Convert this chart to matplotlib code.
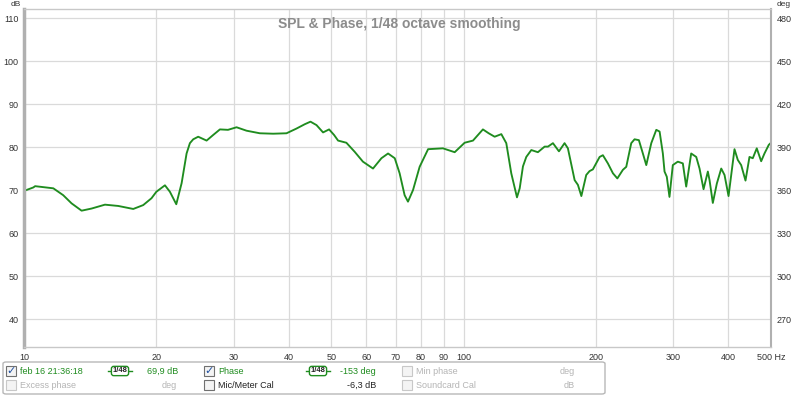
import matplotlib
matplotlib.use("Agg")
import matplotlib.pyplot as plt
from matplotlib.patches import Rectangle, FancyBboxPatch
from matplotlib.lines import Line2D

# SPL trace (Hz, dB)
freq = [10.0, 10.5, 10.6, 11.66, 12.28, 12.83, 13.52, 14.25, 15.28, 16.38,
        17.72, 18.67, 19.5, 20.0, 20.92, 21.47, 22.2, 22.83, 23.43, 23.84,
        24.26, 24.9, 26.02, 26.93, 27.9, 29.1, 30.44, 32.07, 34.39, 36.87,
        39.54, 41.67, 43.5, 44.83, 46.27, 47.88, 49.42, 50.73, 51.8, 54.1,
        56.5, 59.0, 62.2, 65.0, 67.3, 69.7, 71.5, 73.4, 74.7, 76.7,
        79.4, 83.0, 89.7, 95.4, 100.5, 105.0, 110.6, 114.0, 117.6, 121.8,
        125.0, 128.3, 132.2, 134.1, 136.4, 138.8, 142.5, 147.5, 152.8, 155.5,
        159.6, 164.7, 169.6, 172.6, 178.8, 181.9, 185.2, 190.0, 193.3, 196.7,
        203.8, 207.3, 212.8, 218.5, 223.6, 230.2, 234.3, 240.5, 244.7, 250.3,
        255.6, 260.2, 267.1, 274.2, 279.0, 283.8, 286.3, 289.7, 293.8, 299.0,
        306.9, 315.1, 320.7, 329.2, 338.0, 343.9, 351.2, 359.2, 362.4, 368.7,
        376.5, 385.3, 392.0, 400.3, 413.0, 420.2, 427.7, 437.5, 446.7, 454.5,
        464.1, 474.9, 483.2, 494.2, 500.0]
spl = [69.8, 70.6, 70.9, 70.4, 68.8, 66.9, 65.2, 65.7, 66.6, 66.3,
       65.6, 66.5, 68.1, 69.6, 71.1, 69.6, 66.7, 71.6, 78.5, 80.9,
       81.8, 82.4, 81.5, 82.8, 84.1, 84.0, 84.6, 83.8, 83.2, 83.1,
       83.2, 84.3, 85.3, 85.9, 85.1, 83.4, 84.1, 82.8, 81.5, 81.0,
       78.9, 76.6, 75.0, 77.4, 78.5, 77.4, 73.9, 68.8, 67.3, 70.0,
       75.4, 79.5, 79.7, 78.8, 81.0, 81.5, 84.1, 83.2, 82.4, 83.0,
       80.9, 73.9, 68.3, 70.4, 75.5, 77.7, 79.3, 78.8, 80.1, 80.1,
       80.9, 79.0, 80.9, 79.7, 72.3, 71.2, 68.6, 73.5, 74.4, 74.8,
       77.7, 78.1, 76.2, 73.9, 72.7, 74.7, 75.4, 80.9, 81.8, 81.6,
       78.5, 75.8, 80.9, 84.0, 83.6, 78.5, 74.3, 73.1, 68.4, 75.8,
       76.6, 76.2, 70.8, 78.5, 77.7, 75.0, 70.2, 74.3, 72.3, 67.0,
       71.5, 75.0, 73.5, 68.6, 79.5, 77.0, 75.8, 72.2, 77.7, 77.4,
       79.7, 76.7, 78.5, 80.5, 81.0]

x_ticks = [10, 20, 30, 40, 50, 60, 70, 80, 90, 100, 200, 300, 400, 500]
x_labels = ["10", "20", "30", "40", "50", "60", "70", "80", "90", "100",
            "200", "300", "400", "500 Hz"]
db_ticks = [40, 50, 60, 70, 80, 90, 100, 110]
deg_ticks = [270, 300, 330, 360, 390, 420, 450, 480]

GREEN = "#1f8c1f"
GREY_TXT = "#b4b4b4"
FONT = "Liberation Sans"

fig = plt.figure(figsize=(8, 3.95), dpi=100)
fig.patch.set_facecolor("white")
W, H = 800, 395


def fx(x):
    return x / W


def fy(y):
    return 1 - y / H


ax = fig.add_axes([fx(24), fy(347), fx(771) - fx(24), fy(9) - fy(347)])
ax.set_xscale("log")
ax.set_xlim(10, 500)
ax.set_ylim(33.5, 112.1)
ax.plot(freq, spl, color=GREEN, lw=1.35, solid_joinstyle="round")

ax.set_xticks(x_ticks)
ax.set_xticklabels(x_labels)
ax.xaxis.set_minor_locator(plt.NullLocator())
ax.set_yticks(db_ticks)
ax.tick_params(length=0, labelsize=6.5, labelcolor="#333333", pad=4)
for lab in ax.get_xticklabels() + ax.get_yticklabels():
    lab.set_fontfamily(FONT)
ax.grid(True, color="#dadada", lw=0.9)
ax.set_axisbelow(True)
for side in ["top", "bottom"]:
    ax.spines[side].set_color("#c8c8c8")
    ax.spines[side].set_linewidth(1.0)
ax.spines["left"].set_color("#b0b0b0")
ax.spines["left"].set_linewidth(2.5)
ax.spines["right"].set_color("#b0b0b0")
ax.spines["right"].set_linewidth(1.5)

ax2 = ax.twinx()
ax2.set_ylim(390 + (33.5 - 80) * 3, 390 + (112.1 - 80) * 3)
ax2.set_yticks(deg_ticks)
ax2.tick_params(length=0, labelsize=6.5, labelcolor="#333333", pad=4)
for lab in ax2.get_yticklabels():
    lab.set_fontfamily(FONT)
for s in ax2.spines.values():
    s.set_visible(False)

ax.text(0.503, 0.977, "SPL & Phase, 1/48 octave smoothing", transform=ax.transAxes,
        ha="center", va="top", fontsize=10, color="#8c8c8c", family=FONT,
        fontweight="bold")
fig.text(fx(16), fy(4), "dB", fontsize=6, ha="center", va="center", color="#333333", family=FONT)
fig.text(fx(784), fy(4), "deg", fontsize=6, ha="center", va="center", color="#333333", family=FONT)

# legend panel
fig.patches.append(FancyBboxPatch((fx(3), fy(394)), fx(602), fy(362) - fy(394),
                                  boxstyle="round,pad=0,rounding_size=0.004",
                                  transform=fig.transFigure, fc="white",
                                  ec="#b8b8b8", lw=1.0))


def checkbox(x, y, checked=False, dark=False):
    fig.patches.append(Rectangle((fx(x), fy(y + 5)), fx(10), fy(0) - fy(10),
                                 transform=fig.transFigure, fc="#f4f4f4",
                                 ec="#707070" if dark else "#c8c8c8", lw=0.8))
    if checked:
        fig.text(fx(x + 5), fy(y), "\u2713", fontsize=8, ha="center", va="center",
                 color="#2050a0", family="DejaVu Sans")


def smooth_icon(x, y):
    fig.lines.append(Line2D([fx(x), fx(x + 24)], [fy(y), fy(y)],
                            transform=fig.transFigure, color=GREEN, lw=1.0))
    fig.text(fx(x + 12), fy(y), "1/48", fontsize=5.5, ha="center", va="center",
             color="#222222", family=FONT, fontweight="bold",
             bbox=dict(boxstyle="round,pad=0.15,rounding_size=0.3", fc="white",
                       ec=GREEN, lw=1.0))


def label(x, y, s, color, ha="left"):
    fig.text(fx(x), fy(y), s, fontsize=6.5, ha=ha, va="center", color=color, family=FONT)


r1, r2 = 371, 385
checkbox(6, r1, checked=True, dark=True)
label(20, r1, "feb 16 21:36:18", GREEN)
smooth_icon(108, r1)
label(178, r1, "69,9 dB", GREEN, ha="right")
checkbox(204, r1, checked=True, dark=True)
label(218, r1, "Phase", GREEN)
smooth_icon(306, r1)
label(376, r1, "-153 deg", GREEN, ha="right")
checkbox(402, r1)
label(416, r1, "Min phase", GREY_TXT)
label(575, r1, "deg", GREY_TXT, ha="right")

checkbox(6, r2)
label(20, r2, "Excess phase", GREY_TXT)
label(177, r2, "deg", GREY_TXT, ha="right")
checkbox(204, r2, dark=True)
label(218, r2, "Mic/Meter Cal", "#222222")
label(376, r2, "-6,3 dB", "#222222", ha="right")
checkbox(402, r2)
label(416, r2, "Soundcard Cal", GREY_TXT)
label(575, r2, "dB", GREY_TXT, ha="right")

fig.savefig("out.png", dpi=100, facecolor="white")
